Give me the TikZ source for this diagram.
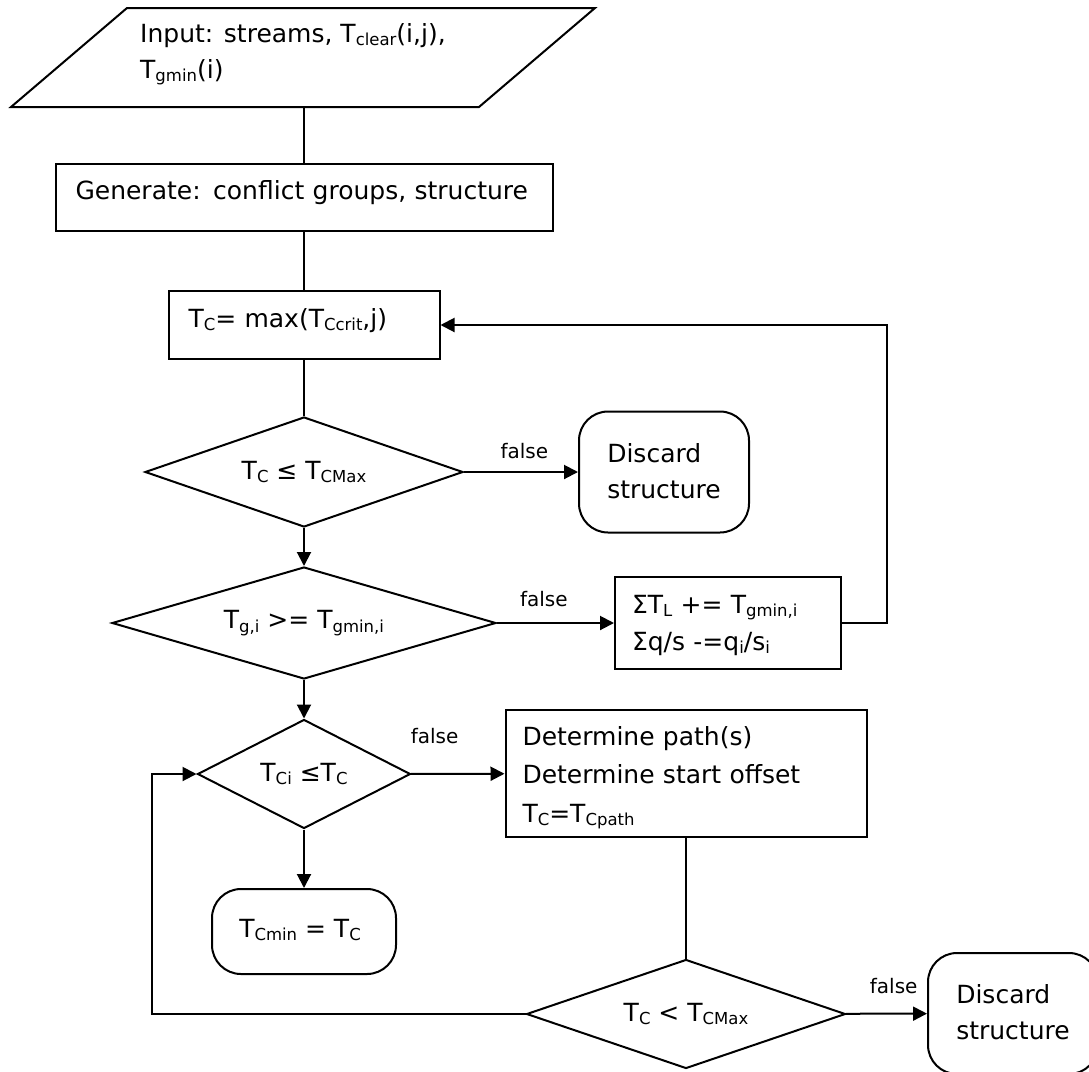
\documentclass[tikz,border=0pt]{standalone}
\usepackage{fontspec}
\setmainfont{DejaVu Sans}
\usetikzlibrary{shapes,shapes.geometric,arrows.meta,positioning}
\newcommand{\tsub}[1]{\raisebox{-3.5pt}{\fontsize{16.5}{16.5}\selectfont #1}}
\tikzstyle{box} = [rectangle, draw, line width=2pt, inner xsep=0pt, inner ysep=0pt,
  font=\fontsize{25}{38}\selectfont, align=left]
\tikzstyle{decision} = [diamond, draw, line width=2pt, inner sep=0pt,
  font=\fontsize{25}{38}\selectfont]
\tikzstyle{term} = [rectangle, rounded corners=29pt, draw, line width=2pt,
  inner sep=0pt, font=\fontsize{25}{36}\selectfont, align=left]
\tikzstyle{line} = [draw, line width=2pt, color=black]
\tikzstyle{flow} = [draw, line width=2pt, color=black, -{Triangle[length=14pt,width=14pt]}]
\tikzstyle{flag} = [font=\fontsize{20}{20}\selectfont, inner sep=0pt]

\begin{document}
\begin{tikzpicture}[x=1pt, y=-1pt]

  \useasboundingbox (0,0) rectangle (1089,1071);

  %%%%%%%%%%%%%%%%%%%%%%%%%%%%%%%%%%%%%%%%%%%%%%%%%%%%%%%%%%%%%%
  %                    INPUT AND SETUP                         %
  %%%%%%%%%%%%%%%%%%%%%%%%%%%%%%%%%%%%%%%%%%%%%%%%%%%%%%%%%%%%%%

  \draw [line, line join=miter] (127,8) -- (595,8) -- (479,107) -- (11,107) -- cycle;
  \coordinate (input-bottom) at (304,107);
  \node [anchor=base west, inner sep=0pt, align=left,
    font=\fontsize{25}{36}\selectfont] (input) at (140,78) {
    Input: streams, T\tsub{clear}(i,j),\\
    T\tsub{gmin}(i)
  };

  \node [box, minimum width=497pt, text width=457pt,
    text height=35pt, text depth=32pt] (generate) at (304,197.5) {
    Generate: conflict groups, structure
  };

  \node [box, minimum width=271pt, text width=231pt,
    text height=36pt, text depth=32pt] (tc) at (304,325) {
    T\tsub{C}= max(T\tsub{Ccrit},j)
  };

  %%%%%%%%%%%%%%%%%%%%%%%%%%%%%%%%%%%%%%%%%%%%%%%%%%%%%%%%%%%%%%
  %                    CHECKS                                  %
  %%%%%%%%%%%%%%%%%%%%%%%%%%%%%%%%%%%%%%%%%%%%%%%%%%%%%%%%%%%%%%

  \node [decision, aspect=2.9, minimum width=318pt, minimum height=110pt] (tc-max) at (304,472) {
    T\tsub{C} ≤ T\tsub{CMax}
  };
  \node [term, minimum width=170pt, text height=87pt, text depth=34pt,
    right = 114pt of tc-max] (discard-top) {
    Discard\\structure
  };

  \node [decision, aspect=3.4, minimum width=384pt, minimum height=112pt] (tg-min) at (304,623) {
    T\tsub{g,i} >= T\tsub{gmin,i}
  };
  \node [box, minimum width=226pt, text width=192pt, text height=36pt, text depth=56pt,
    font=\fontsize{25}{37}\selectfont] (sum) at (728,623) {
    ΣT\tsub{L} += T\tsub{gmin,i}\\
    Σq/s -=q\tsub{i}/s\tsub{i}
  };

  \node [decision, aspect=1.95, minimum width=213pt, minimum height=109pt] (tci) at (304,774) {
    T\tsub{Ci} ≤T\tsub{C}
  };
  \node [box, minimum width=361pt, text width=327pt, text height=35pt, text depth=92pt,
    font=\fontsize{25}{38.5}\selectfont] (path) at (686,773.5) {
    Determine path(s)\\
    Determine start offset\\
    T\tsub{C}=T\tsub{Cpath}
  };

  \node [term, minimum width=184pt, text height=48pt, text depth=37pt,
    align=center] (tc-min) at (304,931.5) {
    T\tsub{Cmin} = T\tsub{C}
  };

  \node [decision, aspect=2.9, minimum width=319pt, minimum height=109pt] (tc-less) at (686,1014) {
    T\tsub{C} < T\tsub{CMax}
  };
  \node [term, minimum width=170pt, text height=86pt, text depth=35pt] (discard-bottom) at (1013,1013.5) {
    Discard\\structure
  };

  %%%%%%%%%%%%%%%%%%%%%%%%%%%%%%%%%%%%%%%%%%%%%%%%%%%%%%%%%%%%%%
  %                    CONNECTORS                              %
  %%%%%%%%%%%%%%%%%%%%%%%%%%%%%%%%%%%%%%%%%%%%%%%%%%%%%%%%%%%%%%

  \path [line] (input-bottom) -- (generate);
  \path [line] (generate) -- (tc);
  \path [line] (tc) -- (tc-max);
  \path [flow] (tc-max) -- node [flag, pos=0.53, above=12pt] {false} (discard-top);
  \path [flow] (tc-max) -- (tg-min);
  \path [flow] (tg-min) -- node [flag, pos=0.4, above=15pt] {false} (sum);
  \path [flow] (sum.east) -- ++(45,0) |- (tc.east);
  \path [flow] (tg-min) -- (tci);
  \path [flow] (tci) -- node [flag, pos=0.25, above=29pt] {false} (path);
  \path [flow] (tci) -- (tc-min);
  \path [line] (path) -- (tc-less);
  \path [flow] (tc-less) -- node [flag, pos=0.59, above=19pt] {false} (discard-bottom);
  \path [flow] (tc-less.west) -- ++(-374,0) |- (tci.west);

\end{tikzpicture}
\end{document}
